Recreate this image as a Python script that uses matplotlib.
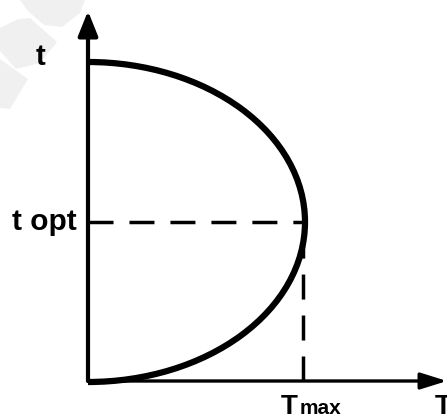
import numpy as np
import matplotlib.pyplot as plt
from matplotlib.patches import Arc, Polygon

# curve parameters (axis units, origin at the corner of the axes)
t_top = 319      # where the curve meets the t axis
t_opt = 159      # t at which T is largest
T_max = 217      # largest T
axis_labels = ["t", "T"]
mark_labels = ["t opt", "T", "max"]

fig = plt.figure(figsize=(4.47, 4.19), dpi=100)
ax = fig.add_axes([0, 0, 1, 1])
ax.set_xlim(-88, 359)
ax.set_ylim(-38, 381)
ax.axis("off")

# faint watermark in the corner
wm = "#f0f0f0"
for pts in [
    [(-68, 381), (-3, 381), (-8, 368), (-26, 354), (-44, 356), (-60, 370)],
    [(-88, 353), (-70, 362), (-58, 363), (-31, 339), (-48, 318), (-72, 312), (-88, 330)],
    [(-88, 322), (-60, 302), (-78, 272), (-88, 273)],
]:
    ax.add_patch(Polygon(pts, closed=True, color=wm, lw=0, zorder=0))

# axes with arrow heads
ax.annotate("", xy=(0, 370), xytext=(0, 0), annotation_clip=False,
            arrowprops=dict(arrowstyle="-|>,head_length=1.5,head_width=0.6",
                            lw=3, color="black", shrinkA=0, shrinkB=0))
ax.annotate("", xy=(359, 0), xytext=(0, 0), annotation_clip=False,
            arrowprops=dict(arrowstyle="-|>,head_length=1.6,head_width=0.5",
                            lw=2.4, color="black", shrinkA=0, shrinkB=0))

# dashed guides to the optimum
half = t_top - t_opt
t_cross = t_opt - half * np.sqrt(1 - ((T_max - 2) / T_max) ** 2)
ax.plot([0, T_max], [t_opt, t_opt], color="black", lw=2.5,
        dashes=(7.2, 4.6), zorder=2)
ax.plot([T_max - 2, T_max - 2], [0, t_cross], color="black", lw=2.5,
        dashes=(7.2, 4.6), zorder=2)

# the curve: half ellipse from the origin to t_top
ax.add_patch(Arc((0, t_opt), 2 * T_max, 2 * half, theta1=-90, theta2=90,
                 lw=4.5, color="black", zorder=3))

font = dict(family="Liberation Sans", fontweight="bold", color="black")
ax.text(-48, 324, axis_labels[0], fontsize=21, ha="center", va="center", **font)
ax.text(-11, t_opt, mark_labels[0], fontsize=21.5, ha="right", va="center", **font)
ax.text(193, -33, mark_labels[1], fontsize=20, ha="left", va="baseline", **font)
ax.text(212, -33, mark_labels[2], fontsize=15, ha="left", va="baseline", **font)
ax.text(347, -33, axis_labels[1], fontsize=20, ha="left", va="baseline", **font)

fig.savefig("out.png", dpi=100)
